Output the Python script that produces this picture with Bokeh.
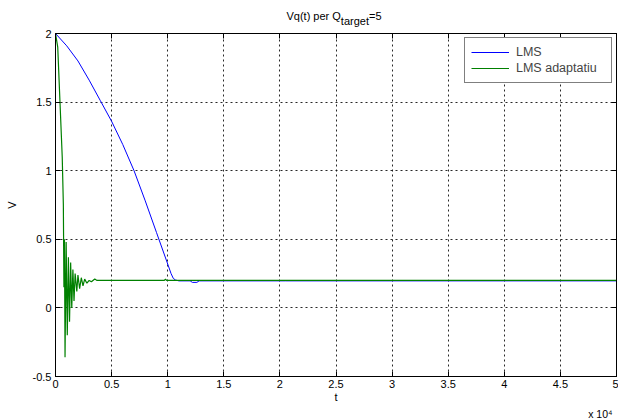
from bokeh.plotting import figure
from bokeh.models import Range1d, FixedTicker, LinearAxis, Legend, LegendItem, Title, Div
from bokeh.layouts import column
from bokeh.embed import file_html
from bokeh.resources import INLINE

# ---- data (t in samples, V in volts) ----
t_lms = [0, 1000, 2000, 3000, 4000, 5000, 6000, 7000, 8000, 9000, 10000,
         10300, 10500, 10700, 11000, 12000, 12200, 12600, 12800, 20500, 50000]
v_lms = [2.0, 1.91, 1.80, 1.66, 1.51, 1.36, 1.19, 1.0, 0.78, 0.55, 0.32,
         0.25, 0.215, 0.203, 0.197, 0.197, 0.186, 0.186, 0.197, 0.197, 0.197]

t_adapt = [0, 200, 400, 600, 700, 750, 800, 850, 950, 1050, 1150, 1250, 1350,
           1450, 1550, 1650, 1750, 1900, 2000, 2150, 2300, 2450, 2600, 2800,
           3000, 3200, 3500, 3700, 9700, 9800, 9900, 50000]
v_adapt = [2.0, 1.9, 1.5, 1.1, 0.75, 0.15, 0.5, -0.36, 0.48, -0.2, 0.37, -0.1,
           0.33, 0.0, 0.28, 0.05, 0.25, 0.12, 0.24, 0.14, 0.22, 0.16, 0.21, 0.18,
           0.20, 0.19, 0.21, 0.20, 0.20, 0.21, 0.20, 0.20]

x_ticks = [0, 5000, 10000, 15000, 20000, 25000, 30000, 35000, 40000, 45000, 50000]
x_tick_labels = ["0", "0.5", "1", "1.5", "2", "2.5", "3", "3.5", "4", "4.5", "5"]
y_ticks = [-0.5, 0, 0.5, 1, 1.5, 2]
y_tick_labels = ["-0.5", "0", "0.5", "1", "1.5", "2"]

FONT = "Liberation Sans"
TITLE_H = 29

title_div = Div(
    text=('<span style="position:relative;top:10px">Vq(t) per Q'
          '<span style="position:relative;top:5px">target</span>=5</span>'),
    width=618, height=TITLE_H,
    styles={"font-family": FONT, "font-size": "11px", "line-height": "13px",
            "color": "black", "text-align": "center", "padding-left": "50px",
            "box-sizing": "border-box", "margin": "0", "overflow": "visible"})

p = figure(width=618, height=419 - TITLE_H, output_backend="svg", toolbar_location=None,
           x_range=Range1d(0, 50000), y_range=Range1d(-0.5, 2),
           min_border_left=55, min_border_right=2, min_border_top=33 - TITLE_H,
           min_border_bottom=41, background_fill_color="white",
           border_fill_color="white")
p.title.visible = False
p.outline_line_color = "black"
p.outline_line_width = 1

xt = FixedTicker(ticks=x_ticks)
yt = FixedTicker(ticks=y_ticks)

for ax, tk, labels in ((p.xaxis[0], xt, x_tick_labels), (p.yaxis[0], yt, y_tick_labels)):
    ax.ticker = tk
    ax.major_label_overrides = {t: l for t, l in zip(tk.ticks, labels)}
    ax.major_tick_in = 5
    ax.major_tick_out = 0
    ax.minor_tick_line_color = None
    ax.axis_line_color = "black"
    ax.major_tick_line_color = "black"
    ax.major_label_text_font = FONT
    ax.major_label_text_font_size = "11px"
    ax.major_label_text_color = "black"
    ax.axis_label_text_font = FONT
    ax.axis_label_text_font_size = "11px"
    ax.axis_label_text_font_style = "normal"
    ax.axis_label_text_color = "black"

p.xaxis.axis_label = "t"
p.yaxis.axis_label = "V"
p.xaxis.major_label_standoff = 3
p.yaxis.major_label_standoff = 4
p.xaxis.axis_label_standoff = 0
p.yaxis.axis_label_standoff = 12

for loc, tk in (("above", xt), ("right", yt)):
    ax = LinearAxis(ticker=tk, major_tick_in=5, major_tick_out=0,
                    minor_tick_line_color=None, axis_line_color="black",
                    major_label_text_font_size="1px", major_label_text_color=None,
                    major_label_standoff=0)
    p.add_layout(ax, loc)

p.add_layout(Title(text="x 10\u2074", align="right", offset=4, standoff=0,
                   text_font=FONT, text_font_size="10.5px", text_font_style="normal",
                   text_color="black"), "below")

for g, tk in ((p.xgrid[0], xt), (p.ygrid[0], yt)):
    g.ticker = tk
    g.grid_line_color = "#111111"
    g.grid_line_dash = "2 3"
    g.grid_line_alpha = 0.9

r_lms = p.line(t_lms, v_lms, line_color="#0000ff", line_width=1)
r_ad = p.line(t_adapt, v_adapt, line_color="#008000", line_width=1.2)

legend = Legend(items=[LegendItem(label="LMS", renderers=[r_lms]),
                       LegendItem(label="LMS adaptatiu", renderers=[r_ad])],
                location="top_right", border_line_color="black",
                border_line_width=1, background_fill_color="white",
                background_fill_alpha=1, margin=4, padding=6, spacing=0,
                glyph_width=38, glyph_height=16, label_height=16,
                label_width=89, label_standoff=7,
                label_text_font=FONT, label_text_font_size="12.5px")
p.add_layout(legend)

layout = column(title_div, p, spacing=0)
open("out.html", "w").write(file_html(layout, INLINE))
